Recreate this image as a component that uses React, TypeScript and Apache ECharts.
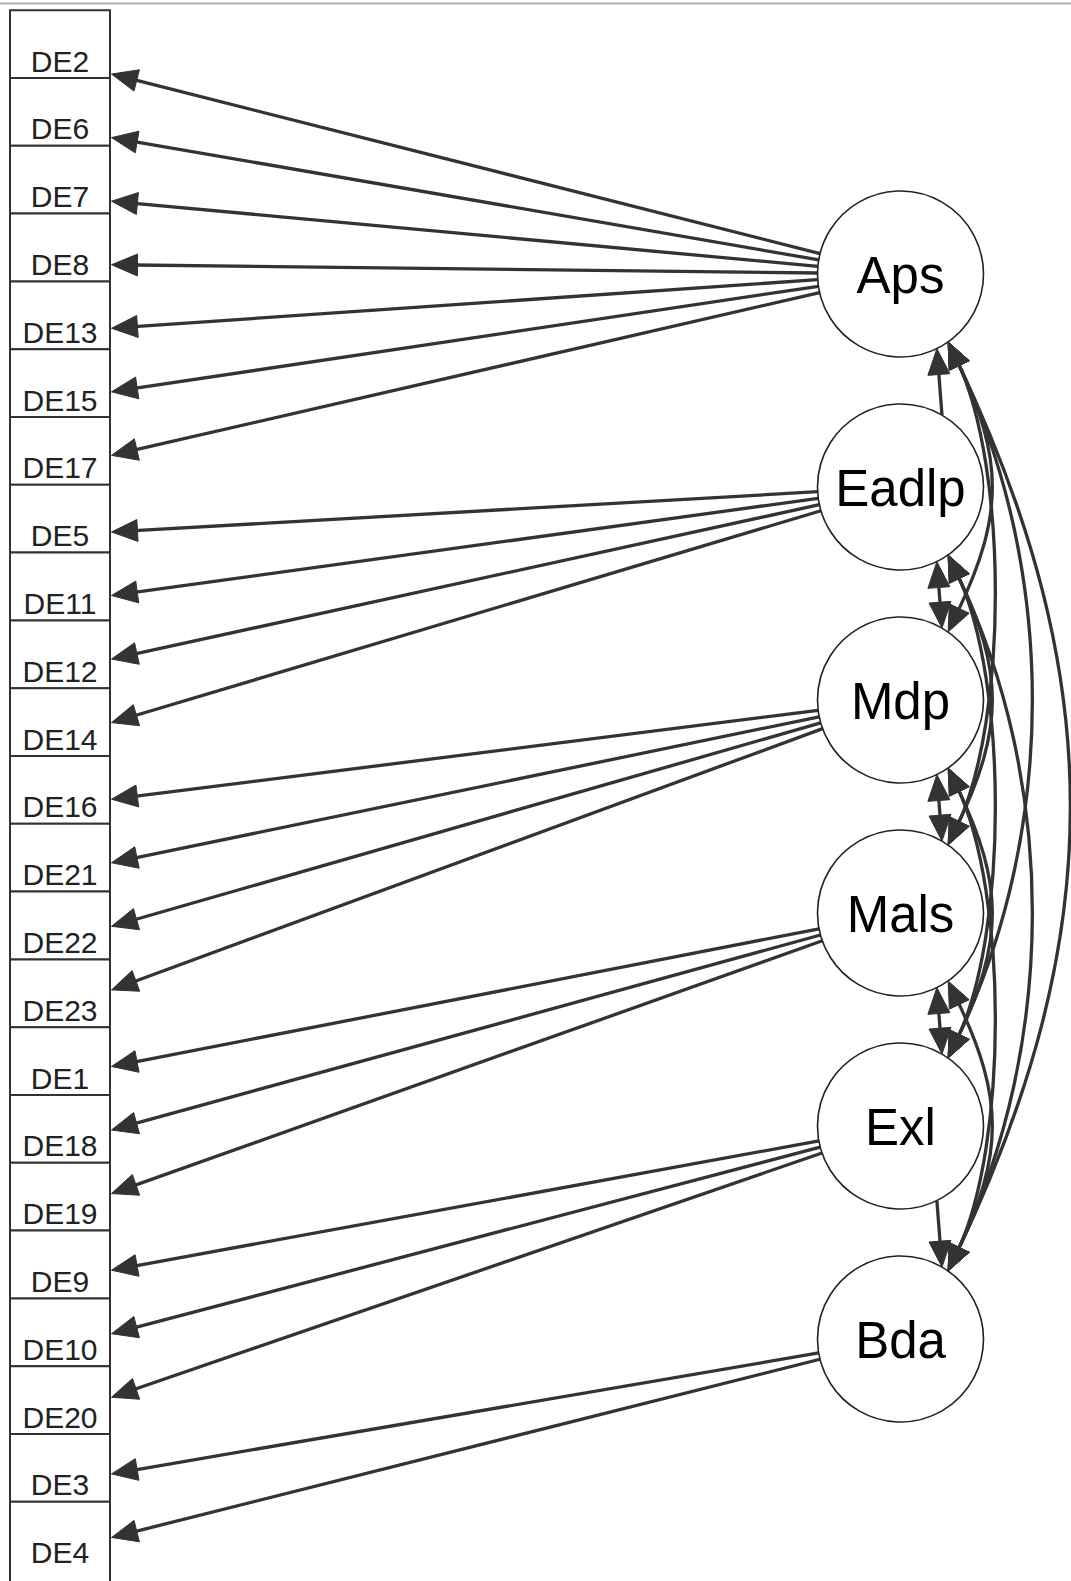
import { useEffect, useRef } from "react";
import * as echarts from "echarts";

// ---- data ----
const indicators = [
  "DE2", "DE6", "DE7", "DE8", "DE13", "DE15", "DE17",
  "DE5", "DE11", "DE12", "DE14",
  "DE16", "DE21", "DE22", "DE23",
  "DE1", "DE18", "DE19",
  "DE9", "DE10", "DE20",
  "DE3", "DE4",
];
const latents = ["Aps", "Eadlp", "Mdp", "Mals", "Exl", "Bda"];
// index of the latent factor each indicator loads on
const indicatorFactor = [0, 0, 0, 0, 0, 0, 0, 1, 1, 1, 1, 2, 2, 2, 2, 3, 3, 3, 4, 4, 4, 5, 5];
// covariance pairs between latent factors (upper, lower)
const covariances = [
  [0, 1], [0, 2], [0, 3], [0, 4], [0, 5],
  [1, 2], [1, 3], [1, 4], [1, 5],
  [2, 3], [2, 4], [2, 5],
  [3, 4], [3, 5],
  [4, 5],
];
// arrowhead visible at [upper end, lower end]
const covarianceHeads = [
  [1, 0], [1, 1], [1, 1], [1, 1], [1, 1],
  [1, 1], [1, 1], [1, 1], [1, 1],
  [1, 1], [1, 1], [1, 1],
  [1, 1], [1, 1],
  [0, 1],
];

// ---- layout ----
const W = 1071;
const H = 1581;
const BOX_LEFT = 10;
const BOX_RIGHT = 110;
const ROW_TOP = 10.2;
const ROW_H = 67.8;
const LABEL_X = 60;
const LABEL_Y0 = 61;
const LABEL_STEP = 67.7;
const LAT_X = 900.5;
const LAT_Y0 = 274;
const LAT_STEP = 213;
const LAT_R = 83;
const HEAD_LEN = 26;
const HEAD_HALF = 11;
const LINE_W = 3.3;
const ARC_REACH = [0, 0, 990, 993, 1030, 1068];
const INK = "#333333";
const FONT = "'Liberation Sans', Arial, Helvetica, sans-serif";

function polar(cy: number, deg: number) {
  const r = (deg * Math.PI) / 180;
  return [LAT_X + LAT_R * Math.cos(r), cy + LAT_R * Math.sin(r)];
}

function head(api: any, tip: number[], ux: number, uy: number) {
  // ux,uy: unit vector from tip back along the line
  const bx = tip[0] + ux * HEAD_LEN;
  const by = tip[1] + uy * HEAD_LEN;
  const nx = -uy, ny = ux;
  return {
    type: "polygon",
    shape: {
      points: [
        api.coord([tip[0], tip[1]]),
        api.coord([bx + nx * HEAD_HALF, by + ny * HEAD_HALF]),
        api.coord([bx - nx * HEAD_HALF, by - ny * HEAD_HALF]),
      ],
    },
    style: { fill: INK, stroke: INK, lineWidth: 1 },
  };
}

function renderLoading(_p: any, api: any) {
  const i = api.value(0);
  const f = api.value(1);
  const cx = LAT_X;
  const cy = LAT_Y0 + f * LAT_STEP;
  const tx = LABEL_X;
  const ty = LABEL_Y0 + i * LABEL_STEP;
  const dx = tx - cx, dy = ty - cy;
  const len = Math.hypot(dx, dy);
  const ux = dx / len, uy = dy / len;
  const s = [cx + ux * LAT_R, cy + uy * LAT_R];
  const k = (BOX_RIGHT + 1.5 - cx) / dx;
  const tip = [cx + dx * k, cy + dy * k];
  const base = [tip[0] - ux * (HEAD_LEN - 3), tip[1] - uy * (HEAD_LEN - 3)];
  const a = api.coord(s);
  const b = api.coord(base);
  return {
    type: "group",
    children: [
      {
        type: "line",
        shape: { x1: a[0], y1: a[1], x2: b[0], y2: b[1] },
        style: { stroke: INK, lineWidth: LINE_W },
      },
      head(api, tip, -ux, -uy),
    ],
  };
}

function renderCovariance(_p: any, api: any) {
  const a = api.value(0);
  const b = api.value(1);
  const hu = api.value(2);
  const hl = api.value(3);
  const d = b - a;
  const ya = LAT_Y0 + a * LAT_STEP;
  const yb = LAT_Y0 + b * LAT_STEP;
  const children: any[] = [];
  if (d === 1) {
    const U = polar(ya, 64);
    const L = polar(yb, -60);
    const dx = L[0] - U[0], dy = L[1] - U[1];
    const len = Math.hypot(dx, dy);
    const ux = dx / len, uy = dy / len;
    const s = hu ? [U[0] + ux * (HEAD_LEN - 3), U[1] + uy * (HEAD_LEN - 3)] : U;
    const e = hl ? [L[0] - ux * (HEAD_LEN - 3), L[1] - uy * (HEAD_LEN - 3)] : L;
    const p1 = api.coord(s), p2 = api.coord(e);
    children.push({
      type: "line",
      shape: { x1: p1[0], y1: p1[1], x2: p2[0], y2: p2[1] },
      style: { stroke: INK, lineWidth: LINE_W },
    });
    if (hu) children.push(head(api, U, ux, uy));
    if (hl) children.push(head(api, L, -ux, -uy));
  } else {
    const S = polar(ya, 55);
    const E = polar(yb, -55);
    const ax = (ARC_REACH[d] - S[0]) / 0.75;
    const span = E[1] - S[1];
    const by = Math.min(2.1 * ax, 0.42 * span);
    const P1 = [S[0] + ax, S[1] + by];
    const P2 = [E[0] + ax, E[1] - by];
    const l1 = Math.hypot(ax, by);
    const su = [ax / l1, by / l1];
    const eu = [ax / l1, -by / l1];
    const S2 = hu ? [S[0] + su[0] * (HEAD_LEN - 4), S[1] + su[1] * (HEAD_LEN - 4)] : S;
    const E2 = hl ? [E[0] + eu[0] * (HEAD_LEN - 4), E[1] + eu[1] * (HEAD_LEN - 4)] : E;
    const s = api.coord(S2), e = api.coord(E2), c1 = api.coord(P1), c2 = api.coord(P2);
    children.push({
      type: "bezierCurve",
      shape: { x1: s[0], y1: s[1], x2: e[0], y2: e[1], cpx1: c1[0], cpy1: c1[1], cpx2: c2[0], cpy2: c2[1] },
      style: { stroke: INK, lineWidth: LINE_W, fill: "none" },
    });
    if (hu) children.push(head(api, S, su[0], su[1]));
    if (hl) children.push(head(api, E, eu[0], eu[1]));
  }
  return { type: "group", children };
}

function renderLatent(_p: any, api: any) {
  const j = api.value(0);
  const cy = LAT_Y0 + j * LAT_STEP;
  const c = api.coord([LAT_X, cy]);
  return {
    type: "group",
    children: [
      {
        type: "circle",
        shape: { cx: c[0], cy: c[1], r: LAT_R },
        style: { fill: "#ffffff", stroke: "#222222", lineWidth: 1.6 },
      },
      {
        type: "text",
        x: c[0],
        y: c[1] + 1,
        style: {
          text: latents[j],
          fill: "#000000",
          fontSize: 51,
          fontFamily: FONT,
          align: "center",
          verticalAlign: "middle",
        },
      },
    ],
  };
}

function renderBox(_p: any, api: any) {
  const i = api.value(0);
  const last = i === indicators.length - 1;
  const top = ROW_TOP + i * ROW_H;
  const tl = api.coord([BOX_LEFT, top]);
  const br = api.coord([BOX_RIGHT, top + (last ? ROW_H * 1.6 : ROW_H)]);
  const lc = api.coord([LABEL_X, LABEL_Y0 + i * ROW_H]);
  return {
    type: "group",
    children: [
      {
        type: "rect",
        shape: { x: tl[0], y: tl[1], width: br[0] - tl[0], height: br[1] - tl[1] },
        style: { fill: "#ffffff", stroke: INK, lineWidth: 2 },
      },
      {
        type: "text",
        x: lc[0],
        y: lc[1],
        style: {
          text: indicators[i],
          fill: "#222222",
          fontSize: 30,
          fontFamily: FONT,
          align: "center",
          verticalAlign: "middle",
        },
      },
    ],
  };
}

export default function App() {
  const ref = useRef<HTMLDivElement>(null);
  useEffect(() => {
    if (!ref.current) return;
    const chart = echarts.init(ref.current, undefined, { renderer: "svg" });
    chart.setOption({
      animation: false,
      backgroundColor: "#ffffff",
      grid: { left: 0, right: 0, top: 0, bottom: 0, containLabel: false },
      xAxis: { type: "value", min: 0, max: W, show: false },
      yAxis: { type: "value", min: 0, max: H, inverse: true, show: false },
      graphic: [
        {
          type: "line",
          shape: { x1: 0, y1: 3.5, x2: W, y2: 3.5 },
          style: { stroke: "#b0b0b0", lineWidth: 2 },
          z: 100,
        },
      ],
      series: [
        {
          type: "custom",
          name: "covariances",
          z: 1,
          clip: false,
          silent: true,
          data: covariances.map((p, k) => [p[0], p[1], covarianceHeads[k][0], covarianceHeads[k][1]]),
          renderItem: renderCovariance,
        },
        {
          type: "custom",
          name: "loadings",
          z: 2,
          clip: false,
          silent: true,
          data: indicators.map((_n, i) => [i, indicatorFactor[i]]),
          renderItem: renderLoading,
        },
        {
          type: "custom",
          name: "indicators",
          z: 3,
          clip: false,
          silent: true,
          data: indicators.map((_n, i) => [i, 0]),
          renderItem: renderBox,
        },
        {
          type: "custom",
          name: "latents",
          z: 4,
          clip: false,
          silent: true,
          data: latents.map((_n, j) => [j, 0]),
          renderItem: renderLatent,
        },
      ],
    });
    return () => chart.dispose();
  }, []);
  return (
    <div
      ref={ref}
      style={{ position: "absolute", left: 0, top: 0, width: W, height: H, background: "#fff" }}
    />
  );
}
